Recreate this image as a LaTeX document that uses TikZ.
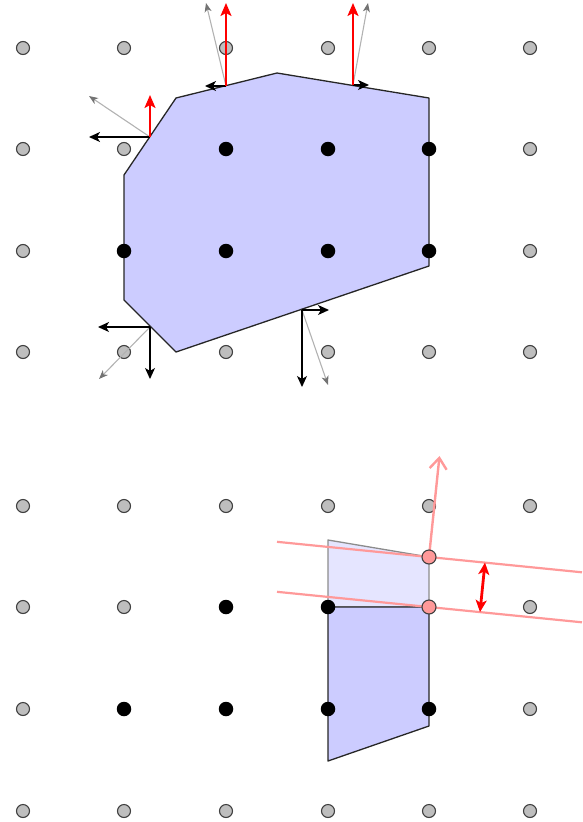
\documentclass[tikz,border=0pt]{standalone}
\usetikzlibrary{arrows.meta}
\definecolor{polyfill}{RGB}{204,204,255}
\definecolor{polylight}{RGB}{229,229,255}
\definecolor{pinkc}{RGB}{255,153,153}
\definecolor{ptgray}{RGB}{190,190,190}
\definecolor{arrgray}{RGB}{178,178,178}
\begin{document}
\begin{tikzpicture}[x=1pt,y=-1pt,
  gpt/.style={circle,draw=black!75,fill=ptgray,line width=1.1pt,minimum size=13pt,inner sep=0pt},
  bpt/.style={circle,fill=black,minimum size=14.5pt,inner sep=0pt},
  ppt/.style={circle,draw=black!75,fill=pinkc,line width=1.1pt,minimum size=14pt,inner sep=0pt},
  polyedge/.style={draw=black!85,line width=1.3pt,line join=round},
  redarr/.style={red,line width=2.2pt,-{Stealth[length=13pt,width=11pt,inset=3pt]}},
  blkarr/.style={black,line width=1.4pt,-{Stealth[length=11pt,width=10pt,inset=3pt]}},
  grayarr/.style={arrgray,line width=1.1pt,-{Stealth[length=9pt,width=7pt,inset=2.5pt,color=black!55]}},
  pinkline/.style={pinkc,line width=2.2pt},
  pinkarr/.style={pinkc,line width=2.4pt,-{Straight Barb[length=11pt,width=17pt]}},
  dblarr/.style={red,line width=2.8pt,{Stealth[length=12pt,width=11pt,inset=3pt]}-{Stealth[length=12pt,width=11pt,inset=3pt]}}]
\useasboundingbox (0,0) rectangle (582,822);

% ---------- top diagram ----------
\path[fill=polyfill,polyedge] (176,98) -- (277,73) -- (429,98) -- (429,266) -- (176,352) -- (124,300) -- (124,175) -- cycle;

\foreach \x/\y/\n in {23/48/ta,124/48/tb,226/48/tc,328/48/td,429/48/te,530/48/tf,
  23/149/tg,124/149/th,530/149/ti,23/251/tj,530/251/tk,
  23/352/tl,124/352/tm,226/352/tn,328/352/to,429/352/tp,530/352/tq}
  \node[gpt] (\n) at (\x,\y) {};
\foreach \x/\y/\n in {226/149/ba,328/149/bb,429/149/bc,124/251/bd,226/251/be,328/251/bf,429/251/bg}
  \node[bpt] (\n) at (\x,\y) {};

% left edge
\coordinate (p1) at (150,137);
\coordinate (p1r) at (150,95);
\coordinate (p1b) at (89,137);
\coordinate (p1g) at (89,96);
\draw[grayarr] (p1) -- (p1g);
\draw[blkarr] (p1) -- (p1b);
\draw[redarr] (p1) -- (p1r);

% top-left edge
\coordinate (p2) at (226,86);
\coordinate (p2r) at (226,3);
\coordinate (p2b) at (205,86);
\coordinate (p2g) at (206,3);
\draw[grayarr] (p2) -- (p2g);
\draw[blkarr] (p2) -- (p2b);
\draw[redarr] (p2) -- (p2r);

% top-right edge
\coordinate (p3) at (353,85);
\coordinate (p3r) at (353,3);
\coordinate (p3b) at (369,85);
\coordinate (p3g) at (368,3);
\draw[grayarr] (p3) -- (p3g);
\draw[blkarr] (p3) -- (p3b);
\draw[redarr] (p3) -- (p3r);

% bottom-left edge
\coordinate (p4) at (150,327);
\coordinate (p4l) at (98,327);
\coordinate (p4d) at (150,379);
\coordinate (p4g) at (99,379);
\draw[grayarr] (p4) -- (p4g);
\draw[blkarr] (p4) -- (p4l);
\draw[blkarr] (p4) -- (p4d);

% bottom edge
\coordinate (p5) at (302,310);
\coordinate (p5r) at (329,310);
\coordinate (p5d) at (302,387);
\coordinate (p5g) at (328,385);
\draw[grayarr] (p5) -- (p5g);
\draw[blkarr] (p5) -- (p5r);
\draw[blkarr] (p5) -- (p5d);

% ---------- bottom diagram ----------
\path[fill=polylight,draw=black!45,line width=1.3pt,line join=round] (328,540) -- (429,557) -- (429,607) -- (328,607) -- cycle;
\path[fill=polyfill,polyedge] (328,607) -- (429,607) -- (429,726) -- (328,761) -- cycle;

\coordinate (l1a) at (277,541.8);
\coordinate (l1b) at (582,572.3);
\coordinate (l2a) at (277,591.8);
\coordinate (l2b) at (582,622.3);
\draw[pinkline] (l1a) -- (l1b);
\draw[pinkline] (l2a) -- (l2b);

\foreach \x/\y/\n in {23/506/ga,124/506/gb,226/506/gc,328/506/gd,429/506/ge,530/506/gf,
  23/607/gg,124/607/gh,530/607/gi,23/709/gj,530/709/gk,
  23/811/gl,124/811/gm,226/811/gn,328/811/go,429/811/gp,530/811/gq}
  \node[gpt] (\n) at (\x,\y) {};
\foreach \x/\y/\n in {226/607/ca,328/607/cb,124/709/cc,226/709/cd,328/709/ce,429/709/cf}
  \node[bpt] (\n) at (\x,\y) {};

\coordinate (q0) at (429,557);
\coordinate (qtip) at (439.5,456);
\draw[pinkarr] (q0) -- (qtip);

\node[ppt] (pa) at (429,557) {};
\node[ppt] (pb) at (429,607) {};

\coordinate (d1) at (485,562.6);
\coordinate (d2) at (480,612.1);
\draw[dblarr] (d1) -- (d2);
\end{tikzpicture}
\end{document}
